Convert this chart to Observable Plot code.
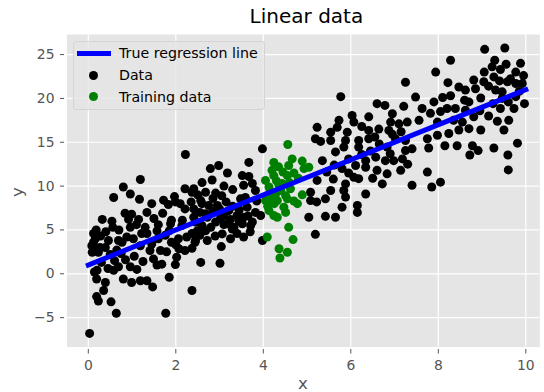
<!DOCTYPE html>
<html>
<head>
<meta charset="utf-8">
<script src="https://cdn.jsdelivr.net/npm/d3@7"></script>
<script src="https://cdn.jsdelivr.net/npm/@observablehq/plot@0.6"></script>
<style>
  body { margin: 0; background: #fff; }
  #wrap { position: relative; width: 544px; height: 392px; font-family: "DejaVu Sans", sans-serif; overflow: hidden; }
  .abs { position: absolute; white-space: nowrap; }
</style>
</head>
<body>
<div id="wrap">
  <div class="abs" id="title" style="left:70px;width:472.8px;top:4px;text-align:center;font-size:20px;color:#000;line-height:24px;">Linear data</div>
  <div class="abs" id="chart" style="left:0;top:30px;"></div>
  <div class="abs" style="left:0;top:0;width:544px;height:392px;pointer-events:none;">
    <div class="abs" style="left:72.7px;top:40.7px;width:190.5px;height:67.5px;background:rgba(229,229,229,0.8);border:1px solid #d4d4d4;border-radius:3px;"></div>
    <div class="abs" style="left:76.5px;top:50.6px;width:34px;height:5px;background:#0000ff;"></div>
    <div class="abs" style="left:88.8px;top:70.5px;width:9px;height:9px;border-radius:50%;background:#000;"></div>
    <div class="abs" style="left:88.8px;top:92.2px;width:9px;height:9px;border-radius:50%;background:#008000;"></div>
    <div class="abs" style="left:119px;top:44px;font-size:14.2px;line-height:18px;color:#000;">True regression line</div>
    <div class="abs" style="left:119px;top:66px;font-size:14.2px;line-height:18px;color:#000;">Data</div>
    <div class="abs" style="left:119px;top:87.7px;font-size:14.2px;line-height:18px;color:#000;">Training data</div>
    <div class="abs" style="left:298px;top:372.5px;font-size:16.7px;line-height:20px;color:#555;">x</div>
    <div class="abs" style="left:7px;top:197px;font-size:16.7px;line-height:20px;color:#555;transform:rotate(-90deg);transform-origin:0 0;">y</div>
  </div>
</div>
<script>
// ---- data ----
const xTicks = [0, 2, 4, 6, 8, 10];
const yTicks = [-5, 0, 5, 10, 15, 20, 25];
const lineX = [0, 10];
const lineY = [1, 21];
const dataPts = [
  [1.19,10.75],[0.80,9.9],[0.96,9.1],[0.58,8.7],[1.17,8.5],[1.72,8.4],[1.83,7.9],[1.97,8.8],[2.21,9.7],[2.37,9.3],[2.10,8.0],[2.21,7.4],[2.35,8.2],[0.84,6.9],[0.99,6.8],[1.34,7.0],[0.32,6.2],[0.54,6.0],[0.92,6.2],[1.15,6.2],[0.56,5.3],[0.96,5.3],[1.60,5.6],[1.90,6.1],[0.12,4.6],[0.16,4.0],[0.46,3.8],[0.69,3.8],[1.03,4.0],[1.34,4.6],[1.57,4.9],[1.76,4.4],[2.06,4.0],[2.37,4.6],[0.12,2.7],[0.27,3.0],[0.65,2.7],[1.19,3.2],[1.45,3.4],[1.49,1.7],[1.79,2.5],[2.02,1.9],[2.37,2.9],[0.45,0.6],[0.69,0.8],[0.96,0.8],[1.11,0.5],[1.57,1.0],[1.68,1.1],[0.14,0.2],[0.19,-0.6],[0.39,-1.0],[0.80,-0.6],[0.99,-1.0],[1.19,-0.8],[1.34,-0.8],[1.47,-1.5],[1.85,-0.4],[0.35,-1.9],[0.19,-2.6],[0.23,-3.1],[0.52,-3.2],[0.64,-4.5],[1.77,-4.5],[2.37,-1.9],[0.03,-6.8],
  [0.12,3.6],[0.23,2.45],[1.41,2.65],[2.21,2.65],[2.44,3.6],[2.25,4.2],[2.14,5.5],[1.60,4.0],[0.77,3.6],[0.88,4.2],[1.22,4.6],[0.58,0.4],[0.39,3.0],[0.09,2.45],[0.20,0.4],
  [0.08,3.2],[0.18,5.0],[0.28,4.3],[0.40,4.8],[0.50,2.2],[0.60,1.5],[0.75,2.3],[0.85,1.6],[1.05,2.0],[1.25,1.4],[0.30,1.3],[0.70,5.0],[1.10,5.6],[1.30,5.3],[1.50,6.3],[1.70,6.9],[1.45,8.0],[1.85,4.9],[2.00,3.3],[1.90,3.6],
  [3.98,14.25],[3.67,12.7],[2.79,12.0],[2.98,12.35],[3.18,11.5],[2.83,10.7],[3.52,11.2],[3.67,11.1],[3.55,10.1],[3.82,9.5],[2.41,9.7],[2.68,9.3],[2.91,9.2],[2.57,8.35],[3.59,8.7],[3.48,8.55],[2.41,7.4],[2.75,7.8],[2.95,7.8],[3.63,7.6],[3.82,7.0],[2.68,6.85],[3.10,6.65],[3.40,6.65],[3.94,6.65],[2.45,5.9],[2.91,5.9],[3.52,5.7],[3.75,5.9],[2.68,4.9],[3.06,4.55],[3.29,5.1],[2.45,3.8],[2.72,3.8],[3.55,4.2],[3.04,3.1],[3.98,3.8],[2.57,1.3],[3.01,1.2],[2.22,13.6],
  [1.99,8.2],[3.21,7.2],[3.55,6.45],[3.71,5.5],[1.99,1.05],[1.65,2.65],[2.07,2.85],[2.49,4.9],[3.18,5.7],[3.33,5.3],[3.02,6.3],[2.72,6.45],[2.41,6.45],[2.15,6.1],[1.88,5.7],
  [2.50,9.0],[2.60,8.0],[2.85,8.6],[3.05,8.9],[3.15,8.2],[3.30,7.7],[3.45,7.3],[2.55,7.0],[2.85,7.1],[3.00,7.4],[3.25,6.2],[3.45,6.0],[3.65,6.6],[2.60,5.5],[2.80,5.3],[3.10,5.6],[3.40,4.6],[2.55,4.4],[2.90,4.3],[3.25,4.0],[3.70,4.8],[3.85,8.3],[3.75,10.3],[3.30,9.6],[3.10,10.0],[2.60,10.4],
  [5.08,8.35],[5.22,8.2],
  [7.25,21.85],[5.77,20.2],[7.48,20.15],[6.60,19.4],[6.78,19.2],[7.21,19.1],[6.03,18.05],[6.41,17.9],[6.95,18.25],[5.73,17.5],[6.07,17.3],[6.91,17.3],[7.10,17.1],[7.29,17.3],[7.56,17.5],[5.23,16.7],[5.69,16.7],[5.92,16.15],[6.41,16.35],[6.64,16.5],[6.87,16.35],[5.54,16.15],[5.19,15.4],[5.31,15.1],[5.54,15.2],[5.88,15.2],[6.18,15.2],[6.41,15.4],[7.02,15.4],[7.25,15.2],[5.65,13.9],[5.84,14.45],[6.18,14.45],[6.83,14.45],[7.25,14.05],[7.40,14.25],[5.35,12.9],[6.34,12.9],[6.57,13.3],[6.79,12.9],[6.98,12.9],[7.18,13.1],[5.80,12.0],[6.11,12.35],[6.34,12.15],[6.60,11.8],[6.83,11.4],[7.14,11.8],[6.07,11.0],[6.18,10.85],[5.23,10.65],[5.88,10.25],[6.72,10.25],[7.40,10.1],[5.54,9.5],[5.84,9.5],[5.08,9.3],[6.34,9.1],[5.42,8.55],[5.88,8.75],[5.80,7.6],[6.15,7.8],[6.15,7.0],[5.42,6.55],[5.65,6.45],[5.04,6.45],[5.19,4.5],
  [5.45,11.6],[5.62,12.4],[5.95,13.1],[6.25,13.6],[6.45,14.0],[6.65,14.8],[6.95,15.9],[7.15,16.2],[6.55,15.6],[6.25,16.8],[5.60,10.8],[5.95,11.5],[6.50,10.9],[6.90,13.7],[7.30,12.5],
  [7.75,11.6],[8.05,10.45],[7.85,9.9],[8.15,14.6],[8.43,14.6],[8.78,14.6],[8.91,14.05],[8.72,13.55],[9.27,14.35],[9.59,13.55],[9.81,14.9],[9.60,11.85],[7.78,14.35],
  [9.06,25.6],[9.52,25.75],[8.28,24.35],[9.29,24.35],[9.23,23.6],[9.42,23.3],[9.88,24.0],[7.94,23.0],[9.77,23.0],[9.27,22.45],[9.65,22.25],[8.22,21.8],[8.81,22.1],[9.04,21.9],[8.47,21.3],[8.62,20.95],[8.85,21.1],[9.31,20.95],[9.58,21.9],[9.77,21.7],[9.92,21.7],[9.46,20.75],[9.97,19.4],[9.77,20.2],[8.28,20.3],[8.97,20.05],[7.90,19.6],[8.70,19.6],[7.63,18.85],[8.20,18.85],[8.39,18.85],[8.62,18.65],[7.82,18.3],[8.05,18.5],[9.42,18.85],[9.73,18.85],[9.46,20.0],[7.98,17.3],[8.81,17.9],[9.61,17.5],[9.50,16.4],[7.75,15.4],[7.98,15.8],[8.24,16.0],[8.47,16.4],[8.70,16.55],[8.97,16.4],
  [8.35,17.5],[8.55,17.3],[8.95,18.6],[9.15,18.0],[9.25,19.4],[9.60,19.6],[9.85,20.8],[9.15,21.4],[9.40,22.0],[8.60,19.8],[8.10,20.1],[9.05,23.0],[9.55,23.9],[9.35,17.4],[9.95,22.6]
];
const trainPts = [
  [4.56,14.75],[4.24,12.7],[4.66,13.1],[4.58,12.35],[4.89,12.85],[4.20,11.8],[4.05,10.65],[4.24,11.2],[4.55,11.2],[4.93,12.0],[4.13,9.9],[4.36,10.1],[4.62,9.7],[4.28,9.1],[4.51,8.9],[4.05,8.35],[4.32,8.35],[4.55,8.55],[4.89,9.0],[4.78,8.0],[4.13,7.2],[4.24,6.65],[4.51,7.0],[4.58,5.3],[4.09,4.2],[4.68,3.9],[4.36,2.85],[4.55,2.45],[4.38,1.8],[5.04,12.15],[4.43,10.3],[4.17,8.7],[4.32,6.45],[4.30,10.6],[4.45,11.6],[4.70,11.5],[4.15,9.3],[4.40,9.5],[4.60,10.4],[4.80,10.9],[4.25,8.0],[4.47,7.6],[4.70,8.3],[4.10,7.7],[4.35,12.2]
];

const lineData = lineX.map((x, i) => ({x, y: lineY[i]}));
const fmt = d => d < 0 ? "\u2212" + Math.abs(d) : String(d);

const plot = Plot.plot({
  width: 544,
  height: 362,
  marginTop: 4,
  marginBottom: 45.5,
  marginLeft: 66.5,
  marginRight: 4.7,
  style: {fontFamily: "DejaVu Sans, sans-serif", fontSize: "13.9px", color: "#555", background: "transparent", overflow: "visible"},
  x: {domain: [-0.487, 10.32]},
  y: {domain: [-8.35, 27.29]},
  marks: [
    Plot.frame({fill: "#E5E5E5", stroke: null}),
    Plot.gridX(xTicks, {stroke: "#fff", strokeOpacity: 1, strokeWidth: 1.2}),
    Plot.gridY(yTicks, {stroke: "#fff", strokeOpacity: 1, strokeWidth: 1.2}),
    Plot.axisX(xTicks, {tickSize: 4.5, tickPadding: 6.5, dy: 2.5, stroke: "#555", fill: "#555", tickFormat: fmt, label: null}),
    Plot.axisY(yTicks, {tickSize: 4, tickPadding: 6, dx: -2.5, stroke: "#555", fill: "#555", tickFormat: fmt, label: null}),
    Plot.dot(dataPts, {x: d => d[0], y: d => d[1], r: 4.5, fill: "#000", stroke: null}),
    Plot.dot(trainPts, {x: d => d[0], y: d => d[1], r: 4.5, fill: "#008000", stroke: null}),
    Plot.line(lineData, {x: "x", y: "y", stroke: "#0000ff", strokeWidth: 5, strokeLinecap: "square"})
  ]
});
document.getElementById("chart").appendChild(plot);
</script>
</body>
</html>
